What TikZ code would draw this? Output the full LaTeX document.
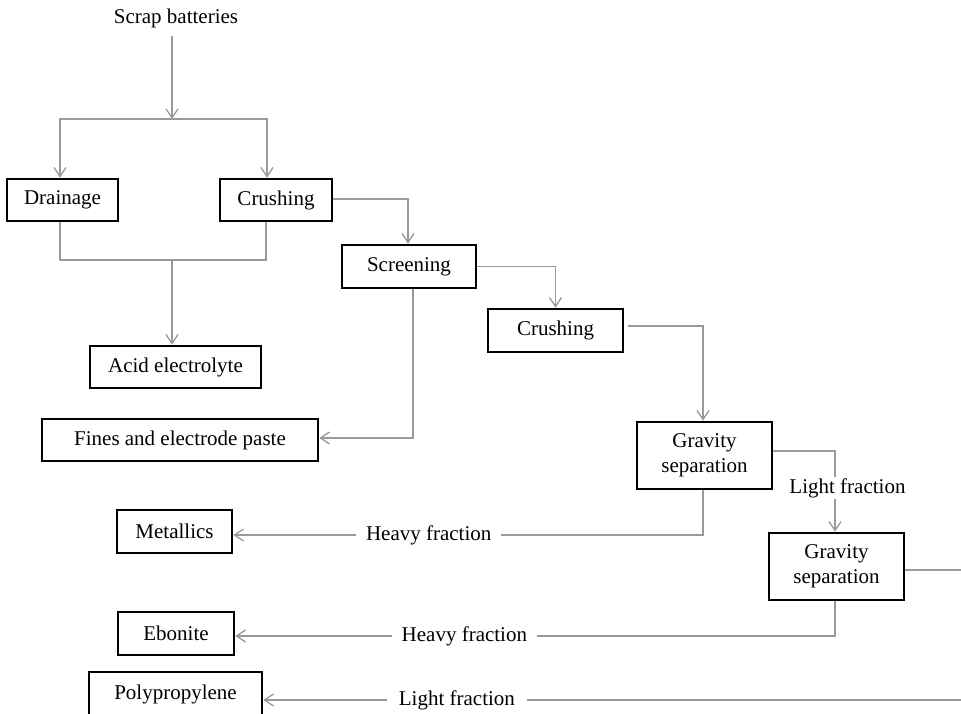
\documentclass[tikz,border=0pt]{standalone}
\usepackage{fontspec}
\setmainfont{Liberation Serif}
\usetikzlibrary{arrows.meta}
\definecolor{linegray}{HTML}{9A9A9A}
\tikzset{
  box/.style={draw=black, line width=2.6pt, fill=white, inner sep=0pt,
    align=center, font=\fontsize{21}{25}\selectfont},
  plain/.style={inner sep=0pt, font=\fontsize{21}{25}\selectfont},
  tag/.style={fill=white, inner xsep=10pt, inner ysep=2pt,
    font=\fontsize{21}{25}\selectfont},
  conn/.style={draw=linegray, line width=1.3pt},
  arr/.style={conn, -{Straight Barb[length=9pt, width=12pt, line width=1.3pt]}},
}
\begin{document}
\begin{tikzpicture}[x=1pt, y=-1pt]
\useasboundingbox[fill=white] (0,0) rectangle (961,714);

% process boxes
\node[plain] (scrap) at (176,18) {Scrap batteries};
\node[box, minimum width=111pt, minimum height=42pt] (drain)  at (62.5,200) {Drainage};
\node[box, minimum width=112pt, minimum height=42pt] (crush1) at (276,200) {Crushing};
\node[box, minimum width=134pt, minimum height=43pt] (screen) at (409,266.5) {Screening};
\node[box, minimum width=135pt, minimum height=43pt] (crush2) at (555.5,330.5) {Crushing};
\node[box, minimum width=135pt, minimum height=67pt] (grav1)  at (704.5,455.5) {Gravity\\separation};
\node[box, minimum width=135pt, minimum height=67pt] (grav2)  at (836.5,566.5) {Gravity\\separation};

% products
\node[box, minimum width=171pt, minimum height=42pt] (acid)   at (175.5,367) {Acid electrolyte};
\node[box, minimum width=276pt, minimum height=42pt] (fines)  at (180,440) {Fines and electrode paste};
\node[box, minimum width=115pt, minimum height=43pt] (metal)  at (174.5,531.5) {Metallics};
\node[box, minimum width=116pt, minimum height=43pt] (ebon)   at (176,633.5) {Ebonite};
\node[box, minimum width=173pt, minimum height=44pt] (poly)   at (175.5,694) {Polypropylene};

% junction points
\coordinate (split) at (172,119);
\coordinate (merge) at (172,260);
\coordinate (loop) at (975,700);

% feed split into drainage and crushing
\draw[arr] (scrap.south -| split) ++(0,8) -- (split);
\draw[arr] (split) -| ([xshift=-2.5pt]drain.north);
\draw[arr] (split) -| ([xshift=-9pt]crush1.north);

% drained and crushed acid collected
\draw[conn] ([xshift=-2.5pt]drain.south) |- (merge);
\draw[conn] ([xshift=-10pt]crush1.south) |- (merge);
\draw[arr] (merge) -- (acid.north -| merge);

% main crushing / screening line
\draw[arr] ([yshift=1pt]crush1.east) -| ([xshift=-1pt]screen.north);
\draw[arr] ([xshift=4pt]screen.south) |- ([yshift=2pt]fines.east);
\draw[arr] (screen.east) -| (crush2.north);
\draw[arr] ([xshift=4pt, yshift=4.5pt]crush2.east) -| ([xshift=-1.5pt]grav1.north);

% first gravity separation
\draw[arr] ([yshift=4.5pt]grav1.east) -| ([xshift=-1.5pt]grav2.north);
\node[fill=white, inner xsep=0pt, inner ysep=1pt, font=\fontsize{21}{25}\selectfont] (lf1) at (847.5,488) {Light fraction};
\draw[arr] ([xshift=-1.5pt]grav1.south) |- (metal.east |- 0,535)
  node[tag, pos=0.792] (hf1) {Heavy fraction};

% second gravity separation
\draw[arr] ([xshift=-1.5pt]grav2.south) |- (ebon.east |- 0,636)
  node[tag, pos=0.809] (hf2) {Heavy fraction};
\draw[arr] ([yshift=-3.5pt]grav2.east) -| (loop) -- (poly.east |- loop)
  node[tag, inner xsep=12pt, pos=0.728] (lf2) {Light fraction};
\end{tikzpicture}
\end{document}
